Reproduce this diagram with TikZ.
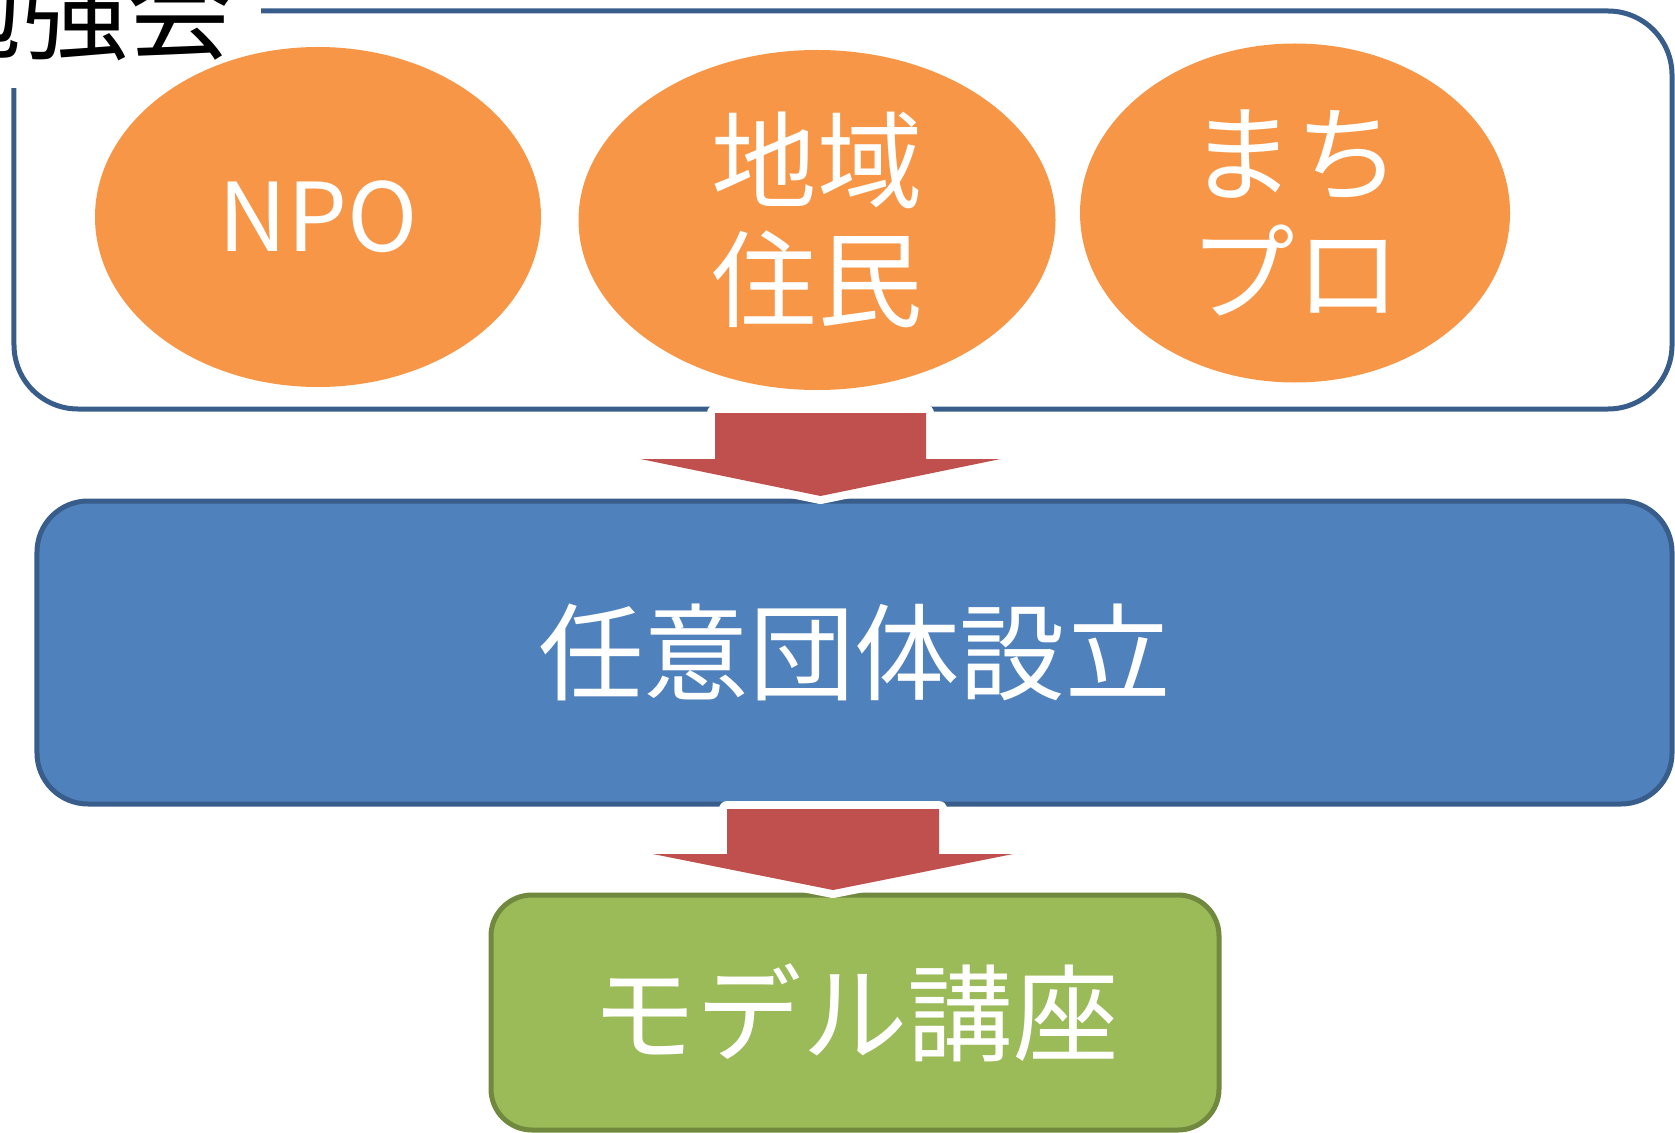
\documentclass[tikz,border=0pt]{standalone}
\usepackage{fontspec}
\setmainfont{Noto Sans CJK JP}
\usetikzlibrary{shapes.geometric}

\definecolor{frameblue}{HTML}{385D8A}
\definecolor{boxblue}{HTML}{4F81BD}
\definecolor{boxgreen}{HTML}{9BBB59}
\definecolor{framegreen}{HTML}{71893F}
\definecolor{bubbleorange}{HTML}{F79646}
\definecolor{arrowred}{HTML}{C0504D}

\begin{document}
\begin{tikzpicture}[
	bigtext/.style = {font = \fontsize{30}{34}\selectfont, text = white, align = center},
	groupbox/.style = {draw = frameblue, line width = 0.05cm, rounded corners = 0.64cm},
	titlebox/.style = {fill = white, inner xsep = 0.28cm, inner ysep = 0.27cm, font = \fontsize{30}{34}\selectfont},
	bubble/.style = {ellipse, fill = bubbleorange, inner sep = 0, bigtext},
	stepbox/.style = {draw = #1, line width = 0.05cm},
	blockarrow/.style = {fill = arrowred, preaction = {draw = white, line width = 0.16cm, line join = round}}
]

	\useasboundingbox (0, 0) rectangle (16.75, -11.32);

	\node [groupbox, minimum width = 16.58 cm, minimum height = 3.98 cm] (group) at (8.43, -2.10) {};

	\node [titlebox, anchor = south east] (title) at (2.62, -0.89) {勉強会};

	\node [bubble, minimum width = 4.46 cm, minimum height = 3.40 cm, font = \fontsize{27}{32}\selectfont] (npo) at (3.18, -2.17) {NPO};
	\node [bubble, minimum width = 4.77 cm, minimum height = 3.40 cm] (residents) at (8.17, -2.20) {地域\\住民};
	\node [bubble, minimum width = 4.30 cm, minimum height = 3.39 cm] (pro) at (12.95, -2.13) {まち\\プロ};

	\node [stepbox = frameblue, fill = boxblue, rounded corners = 0.51 cm, minimum width = 16.35 cm, minimum height = 3.03 cm, bigtext] (org) at (8.545, -6.525) {任意団体設立};

	\node [stepbox = framegreen, fill = boxgreen, rounded corners = 0.41 cm, minimum width = 7.28 cm, minimum height = 2.35 cm, bigtext] (course) at (8.55, -10.125) {モデル講座};

	\coordinate (arrowtopA) at (8.205, -4.13);
	\coordinate (arrowtopB) at (8.33, -8.09);

	\path [blockarrow] (arrowtopA) ++(-1.055, 0) -- ++(2.11, 0) -- ++(0, -0.46) -- ++(0.745, 0) -- ++(-1.80, -0.37) -- ++(-1.80, 0.37) -- ++(0.745, 0) -- cycle;

	\path [blockarrow] (arrowtopB) ++(-1.06, 0) -- ++(2.12, 0) -- ++(0, -0.45) -- ++(0.74, 0) -- ++(-1.80, -0.36) -- ++(-1.80, 0.36) -- ++(0.74, 0) -- cycle;

\end{tikzpicture}
\end{document}
